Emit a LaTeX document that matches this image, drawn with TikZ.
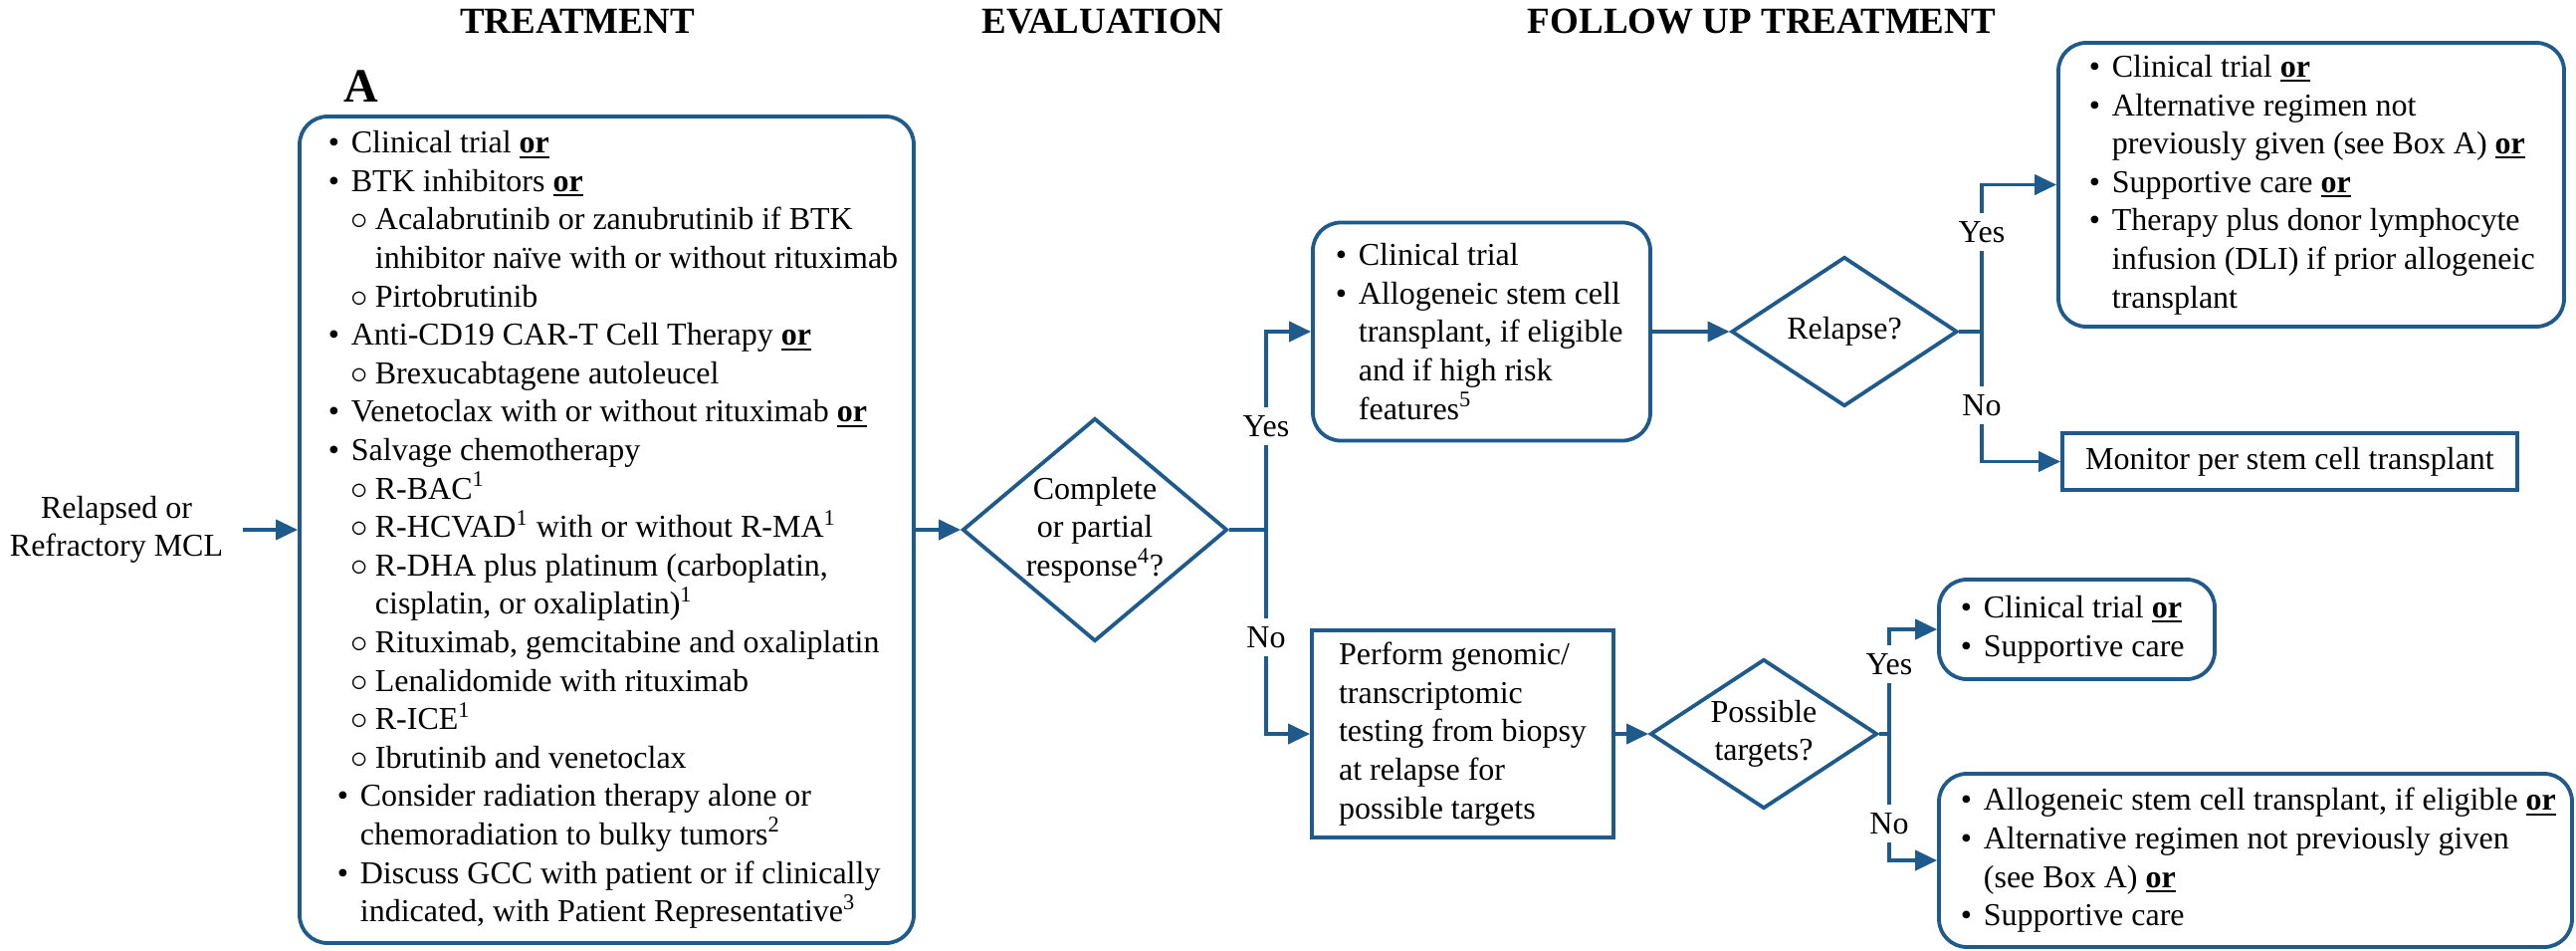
\documentclass[tikz,border=0pt]{standalone}
\usepackage{fontspec}
\setmainfont{Liberation Serif}
\usetikzlibrary{arrows.meta,shapes.geometric}
\definecolor{flowblue}{RGB}{30,90,140}
% list helpers: bullet, sub-bullet and their continuation indents
\newcommand\blt{\makebox[11.5pt][l]{\textbullet}}
\newcommand\sblt{\hspace*{11.5pt}\makebox[12pt][l]{$\circ$}}
\newcommand\bcont{\hspace*{11.5pt}}
\newcommand\scont{\hspace*{23.5pt}}
% bold "or" with a heavy underline
\newsavebox\orbox
\newcommand\orb{\sbox\orbox{\textbf{or}}\usebox\orbox\llap{\rule[-2.4pt]{\wd\orbox}{1pt}}}

\begin{document}
\begin{tikzpicture}[x=0.5pt,y=-0.5pt,
  txt/.style={font=\fontsize{16}{19.3}\selectfont, inner sep=0pt},
  listtext/.style={txt, align=left, anchor=west},
  hdr/.style={font=\fontsize{18.5}{22}\selectfont\bfseries, inner sep=0pt, anchor=base},
  panel/.style={draw=flowblue, line width=1.9pt, rounded corners=14pt, inner sep=0pt},
  plainbox/.style={txt, draw=flowblue, line width=1.9pt},
  decision/.style={draw=flowblue, line width=1.9pt, diamond, inner sep=0pt},
  link/.style={draw=flowblue, line width=1.9pt},
  flow/.style={link, -{Triangle[length=11pt,width=10pt]}},
  answer/.style={txt, fill=white, inner xsep=1pt, inner ysep=4pt}]

\useasboundingbox (0,0) rectangle (2588,954);

% column headings
\node[hdr] (h1) at (580,33) {TREATMENT};
\node[hdr] (h2) at (1108,33) {EVALUATION};
\node[hdr] (h3) at (1770,33) {FOLLOW UP TREATMENT};
\node[font=\fontsize{24}{28}\selectfont\bfseries, inner sep=0pt, anchor=base] (boxlabel) at (363,102) {A};

% starting point
\node[txt, align=center] (src) at (117,532) {Relapsed or\\Refractory MCL};

% box A: treatment options
\node[panel, minimum width=308.5pt, minimum height=415pt] (boxA) at (609.5,532) {};
\node[listtext] (boxAtext) at (329.5,532) {%
\blt Clinical trial \orb\\
\blt BTK inhibitors \orb\\
\sblt Acalabrutinib or zanubrutinib if BTK\\
\scont inhibitor naïve with or without rituximab\\
\sblt Pirtobrutinib\\
\blt Anti-CD19 CAR-T Cell Therapy \orb\\
\sblt Brexucabtagene autoleucel\\
\blt Venetoclax with or without rituximab \orb\\
\blt Salvage chemotherapy\\
\sblt R-BAC\textsuperscript{1}\\
\sblt R-HCVAD\textsuperscript{1} with or without R-MA\textsuperscript{1}\\
\sblt R-DHA plus platinum (carboplatin,\\
\scont cisplatin, or oxaliplatin)\textsuperscript{1}\\
\sblt Rituximab, gemcitabine and oxaliplatin\\
\sblt Lenalidomide with rituximab\\
\sblt R-ICE\textsuperscript{1}\\
\sblt Ibrutinib and venetoclax\\
\hspace*{4.5pt}\blt Consider radiation therapy alone or\\
\hspace*{4.5pt}\bcont chemoradiation to bulky tumors\textsuperscript{2}\\
\hspace*{4.5pt}\blt Discuss GCC with patient or if clinically\\
\hspace*{4.5pt}\bcont indicated, with Patient Representative\textsuperscript{3}};

% evaluation
\node[decision, minimum width=133pt, minimum height=112pt] (d1) at (1100,532) {};
\node[txt, align=center] (d1text) at (d1) {Complete\\or partial\\response\textsuperscript{4}?};

% response branch
\node[panel, minimum width=169.5pt, minimum height=109.5pt] (yesbox) at (1488.5,333) {};
\node[listtext] (yestext) at (1341.5,333) {%
\blt Clinical trial\\
\blt Allogeneic stem cell\\
\bcont transplant, if eligible\\
\bcont and if high risk\\
\bcont features\textsuperscript{5}};

\node[decision, minimum width=113.5pt, minimum height=75pt] (relapse) at (1853,333) {};
\node[txt] (relapsetext) at (relapse) {Relapse?};

\node[panel, minimum width=254pt, minimum height=142.5pt] (topbox) at (2322,185.5) {};
\node[listtext] (toptext) at (2098.5,185.5) {%
\blt Clinical trial \orb\\
\blt Alternative regimen not\\
\bcont previously given (see Box A) \orb\\
\blt Supportive care \orb\\
\blt Therapy plus donor lymphocyte\\
\bcont infusion (DLI) if prior allogeneic\\
\bcont transplant};

\node[plainbox, minimum width=228.5pt, minimum height=28.5pt] (monitor) at (2300.5,463.5) {Monitor per stem cell transplant};

% no-response branch
\node[plainbox, align=left, minimum width=151.5pt, minimum height=104pt] (perform) at (1469.5,737) {Perform genomic/\\transcriptomic\\testing from biopsy\\at relapse for\\possible targets};

\node[decision, minimum width=114pt, minimum height=75pt] (targets) at (1772,737) {};
\node[txt, align=center] (targetstext) at (targets) {Possible\\targets?};

\node[panel, minimum width=138.5pt, minimum height=50pt] (smallbox) at (2086.5,632) {};
\node[listtext] (smalltext) at (1969.5,632) {%
\blt Clinical trial \orb\\
\blt Supportive care};

\node[panel, minimum width=318pt, minimum height=87pt] (bottombox) at (2266,864) {};
\node[listtext] (bottomtext) at (1969.5,864) {%
\blt Allogeneic stem cell transplant, if eligible \orb\\
\blt Alternative regimen not previously given\\
\bcont (see Box A) \orb\\
\blt Supportive care};

% connectors
\draw[flow, shorten <=10pt] (src.east) -- (boxA.west);
\draw[flow] (boxA.east) -- (d1.west);

\coordinate (j1) at (1272,532);
\draw[link] (d1.east) -- (j1);
\draw[flow] (j1) |- (yesbox.west);
\draw[flow] (j1) |- (perform.west);
\node[answer] (yes1) at (1272,428) {Yes};
\node[answer] (no1) at (1272,640) {No};

\draw[flow] (yesbox.east) -- (relapse.west);
\coordinate (j2) at (1991,333);
\draw[link] (relapse.east) -- (j2);
\draw[flow] (j2) |- (topbox.west);
\draw[flow] (j2) |- (monitor.west);
\node[answer] (yes2) at (1991,233) {Yes};
\node[answer] (no2) at (1991,407) {No};

\draw[flow] (perform.east) -- (targets.west);
\coordinate (j3) at (1898,737);
\draw[link] (targets.east) -- (j3);
\draw[flow] (j3) |- (smallbox.west);
\draw[flow] (j3) |- (bottombox.west);
\node[answer] (yes3) at (1898,667) {Yes};
\node[answer] (no3) at (1898,827) {No};

\end{tikzpicture}
\end{document}
